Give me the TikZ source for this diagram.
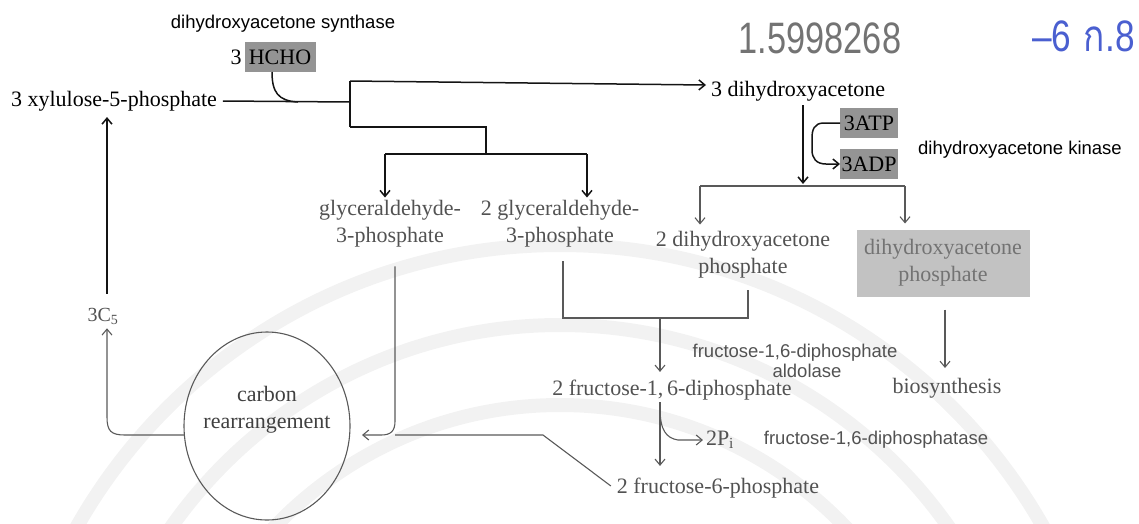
\documentclass[tikz,border=0pt]{standalone}
\usepackage{fontspec}
\setmainfont{Liberation Serif}
\setsansfont{Liberation Sans}
\newfontfamily\thaifont[Script=Thai]{Loma}
\usetikzlibrary{arrows.meta,shapes.geometric,calc}
\definecolor{inkblue}{HTML}{4A5FD0}

\begin{document}
\begin{tikzpicture}[x=1pt,y=-1pt,
  every node/.style={inner sep=0pt, outer sep=0pt},
  chem/.style={font=\fontsize{22}{27}\selectfont, align=center, text=black!68},
  chemk/.style={chem, text=black},
  enz/.style={font=\sffamily\fontsize{18.5}{20}\selectfont, align=center, text=black!68},
  shadebox/.style={fill=black!42, minimum height=30pt, inner sep=1pt,
    font=\fontsize{22}{27}\selectfont, text=black},
  ln/.style={line width=1.1pt, draw=black!65},
  lnk/.style={line width=1.5pt, draw=black!92},
  arr/.style={-{Straight Barb[length=6pt,width=10pt]}},
  hand/.style={font=\sffamily\fontsize{44}{46}\selectfont},
]
\useasboundingbox (0,0) rectangle (1139,523);

% faint emblem in the background
\begin{scope}[draw=black!5, line width=14pt]
  \draw (560,800) circle[radius=555];
  \draw (560,800) circle[radius=475];
  \draw (560,800) circle[radius=395];
\end{scope}

% handwritten notes
\node[hand, text=black!55] (hw1) at (820,38) {\scalebox{0.78}[1]{1.5998268}};
\node[hand, text=inkblue, anchor=west] (hw2) at (1032,36) {\scalebox{0.8}[1]{–6\hspace{16pt}{\thaifont ก}.8}};

% top: formaldehyde fixation
\node[enz, text=black] (syn) at (283,24) {dihydroxyacetone synthase};
\node[shadebox, minimum width=71pt] (hcho) at (280,57) {HCHO};
\node[chemk, anchor=east] (hcnt) at ([xshift=-3pt]hcho.west) {3};
\node[chemk] (xyl) at (114,101) {3 xylulose-5-phosphate};
\node[chemk, anchor=west] (dha) at (711,91) {3 dihydroxyacetone};

\coordinate (jx) at (350,102);
\coordinate (jt) at (350,81);
\coordinate (jb) at (350,127);
\coordinate (jm) at (486,127);
\coordinate (jm2) at (486,154);
\coordinate (jl) at (385,154);
\coordinate (jr) at (587,154);

\draw[lnk] ([xshift=6pt]xyl.east) -- (jx);
\draw[lnk] ([xshift=-8pt]hcho.south) .. controls (272,92) and (278,101) .. (298,102);
\draw[lnk] (jt) -- (jb);
\draw[lnk, arr] (jt) -- ([xshift=-5pt,yshift=6pt]dha.west);
\draw[lnk] (jb) -- (jm) -- (jm2);
\draw[lnk] (jl) -- (jr);

% triose phosphates
\node[chem] (g3p) at (390,224) {glyceraldehyde-\\3-phosphate};
\node[chem] (g3p2) at (560,224) {2 glyceraldehyde-\\3-phosphate};
\node[chem] (dhap2) at (743,255) {2 dihydroxyacetone\\phosphate};
\node[shadebox, fill=black!24, text=black!55, minimum width=173pt, minimum height=67pt,
  align=center, font=\fontsize{22}{27}\selectfont] (dhap) at (943,263)
  {dihydroxyacetone\\phosphate};

\draw[lnk, arr, shorten >=3pt] (jl) -- (g3p.north -| jl);
\draw[lnk, arr, shorten >=3pt] (jr) -- (g3p2.north -| jr);

% kinase step
\coordinate (kx) at (803,0);
\coordinate (kb) at (803,186);
\coordinate (kl) at (700,186);
\coordinate (kr) at (905,186);
\node[shadebox, minimum width=58pt] (atp) at (869,123) {3ATP};
\node[shadebox, minimum width=58pt] (adp) at (869,164) {3ADP};
\node[enz, text=black] (kin) at (1020,150) {dihydroxyacetone kinase};

\draw[lnk, arr, shorten <=4pt, shorten >=2pt] (dha.south -| kx) -- (kb);
\draw[lnk, arr] (atp.west) -- (824,123) .. controls (814,123) and (812,130) .. (812,138)
  -- (812,150) .. controls (812,158) and (816,164) .. (826,164) -- (adp.west);
\draw[ln] (kl) -- (kr);
\draw[ln, arr, shorten >=7pt] (kl) -- (dhap2.north -| kl);
\draw[ln, arr, shorten >=6pt] (kr) -- (dhap.north -| kr);

% aldolase
\coordinate (fl) at (563,318);
\coordinate (fr) at (748,318);
\coordinate (fm) at (660,318);
\node[chem] (fbp) at (672,390) {2 fructose-1,\,6-diphosphate};
\node[enz] (ald) at (795,361) {fructose-1,6-diphosphate\\\hspace*{24pt}aldolase};
\draw[ln, shorten <=14pt, shorten >=12pt] (g3p2.south -| fl) -- (fl) -- (fr) -- (dhap2.south -| fr);
\draw[ln, arr, shorten >=8pt] (fm) -- (fbp.north -| fm);

% biosynthesis
\coordinate (bx) at (945,0);
\node[chem] (bio) at (947,388) {biosynthesis};
\draw[ln, arr, shorten <=13pt, shorten >=10pt] (dhap.south -| bx) -- (bio.north -| bx);

% phosphatase
\node[chem] (pi) at (720,440) {2P\textsubscript{i}};
\node[enz] (fdp) at (876,440) {fructose-1,6-diphosphatase};
\node[chem] (f6p) at (718,488) {2 fructose-6-phosphate};
\coordinate (pb) at ($(fbp.south -| fm)+(0,8)$);
\draw[ln, arr, shorten <=2pt, shorten >=12pt] (fbp.south -| fm) -- (f6p.north -| fm);
\draw[ln, arr] (pb) .. controls (660,430) and (666,438) .. (678,440) -- ([xshift=-3pt]pi.west);

% carbon rearrangement
\node[draw=black!65, line width=1.1pt, ellipse, minimum width=166pt, minimum height=188pt] (circ) at (267,426) {};
\node[chem, text=black!75] (ctext) at (267,410) {carbon\\rearrangement};
\coordinate (gx) at (395,435);
\coordinate (fk) at (543,435);
\draw[ln, arr, shorten >=12pt] ($(g3p.south -| gx)+(0,19)$) -- ($(gx)+(0,-14)$)
  .. controls ($(gx)+(0,-4)$) and ($(gx)+(-4,0)$) .. ($(gx)+(-14,0)$) -- (circ.east |- gx);
\draw[ln] ([xshift=-6pt,yshift=2pt]f6p.west) -- (fk) -- (gx);

% back to xylulose-5-phosphate
\node[chem, font=\fontsize{20}{24}\selectfont] (c5) at (103,316) {3C\textsubscript{5}};
\coordinate (lj) at (107,435);
\draw[ln, arr, shorten >=4pt] (circ.west |- lj) -- ($(lj)+(18,0)$)
  .. controls ($(lj)+(4,0)$) and ($(lj)+(0,-4)$) .. ($(lj)+(0,-18)$) -- (c5.south -| lj);
\draw[lnk, arr, shorten <=14pt, shorten >=6pt] (c5.north -| lj) -- (xyl.south -| lj);
\end{tikzpicture}
\end{document}
